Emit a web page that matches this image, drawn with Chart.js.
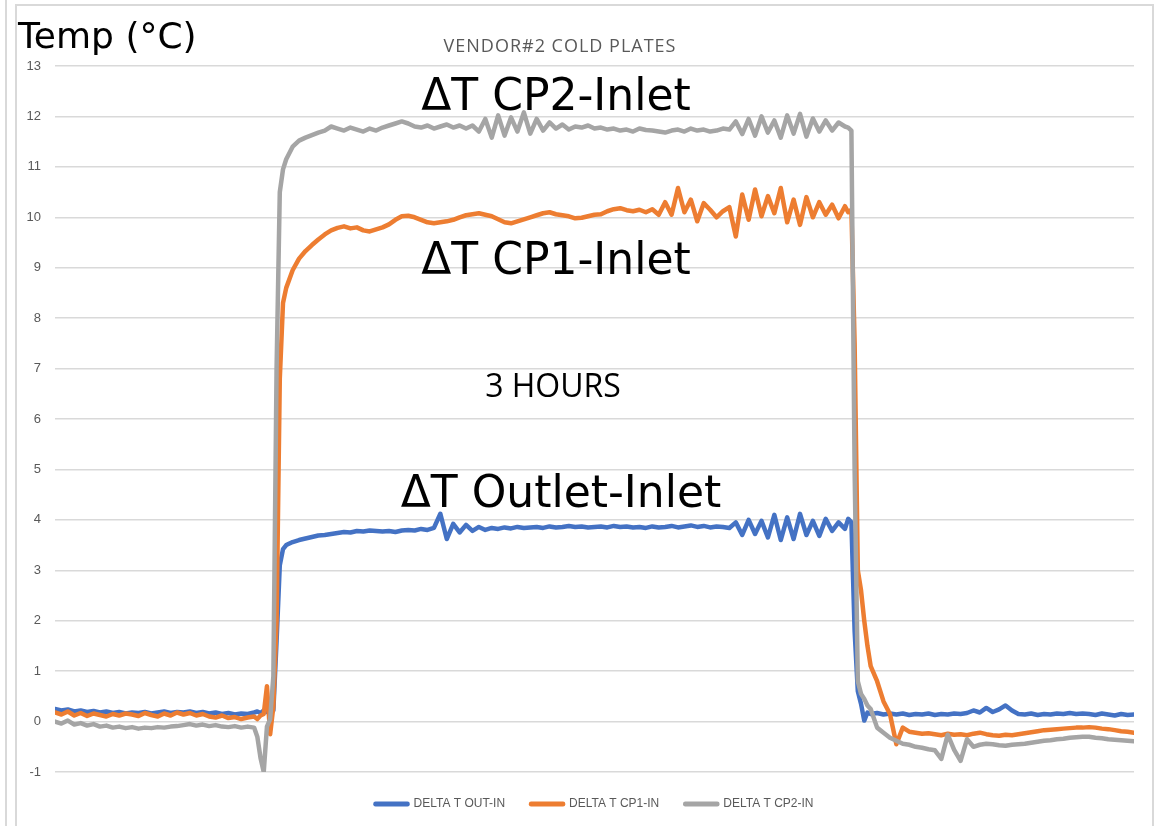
<!DOCTYPE html>
<html>
<head>
<meta charset="utf-8">
<title>Vendor#2 Cold Plates</title>
<script src="https://cdn.jsdelivr.net/npm/chart.js@4.4.1/dist/chart.umd.min.js"></script>
<style>
  html, body { margin: 0; padding: 0; background: #fff; }
  #wrap { position: relative; width: 1161px; height: 826px; overflow: hidden; }
  .edge { position: absolute; background: #d9d9d9; }
  canvas { position: absolute; left: 0; top: 0; }
</style>
</head>
<body>
<div id="wrap">
  <div class="edge" style="left:5px;top:0;width:2px;height:826px"></div>
  <div class="edge" style="left:15px;top:4px;width:2px;height:822px"></div>
  <div class="edge" style="left:15px;top:4px;width:1139px;height:2px"></div>
  <div class="edge" style="left:1152px;top:4px;width:2px;height:822px"></div>
  <canvas id="chart" width="1161" height="826"></canvas>
</div>
<script>
// Elapsed time in minutes (finer steps around the load step up / step down)
const times = [
  0, 2, 4, 6, 8, 10, 12, 14, 16, 18,
  20, 22, 24, 26, 28, 30, 32, 34, 36, 38,
  40, 42, 44, 46, 48, 50, 52, 54, 56, 58,
  60, 62, 63, 64, 65, 66, 67, 68, 69, 70,
  71, 72, 74, 76, 78, 80, 82, 84, 86, 88,
  90, 92, 94, 96, 98, 100, 102, 104, 106, 108,
  110, 112, 114, 116, 118, 120, 122, 124, 126, 128,
  130, 132, 134, 136, 138, 140, 142, 144, 146, 148,
  150, 152, 154, 156, 158, 160, 162, 164, 166, 168,
  170, 172, 174, 176, 178, 180, 182, 184, 186, 188,
  190, 192, 194, 196, 198, 200, 202, 204, 206, 208,
  210, 212, 214, 216, 218, 220, 222, 224, 226, 228,
  230, 232, 234, 236, 238, 240, 242, 244, 246, 247,
  248, 249, 250, 251, 252, 253, 254, 256, 258, 260,
  262, 264, 266, 268, 270, 272, 274, 276, 278, 280,
  282, 284, 286, 288, 290, 292, 294, 296, 298, 300,
  302, 304, 306, 308, 310, 312, 314, 316, 318, 320,
  322, 324, 326, 328, 330, 332, 334, 336
];

// DELTA T OUT-IN
const outIn = [
  0.25, 0.22, 0.24, 0.20, 0.22, 0.19, 0.21, 0.18, 0.20, 0.17,
  0.19, 0.16, 0.18, 0.17, 0.19, 0.16, 0.18, 0.20, 0.17, 0.19,
  0.18, 0.20, 0.17, 0.19, 0.16, 0.18, 0.15, 0.17, 0.14, 0.16,
  0.15, 0.18, 0.20, 0.17, 0.22, 0.19, 0.18, 0.22, 1.60, 3.10,
  3.42, 3.50, 3.56, 3.60, 3.63, 3.66, 3.69, 3.70, 3.72, 3.74,
  3.76, 3.75, 3.78, 3.77, 3.79, 3.78, 3.77, 3.78, 3.76, 3.79,
  3.80, 3.79, 3.82, 3.80, 3.84, 4.12, 3.62, 3.92, 3.75, 3.90,
  3.78, 3.86, 3.80, 3.84, 3.82, 3.85, 3.83, 3.86, 3.84, 3.85,
  3.86, 3.84, 3.87, 3.85, 3.86, 3.88, 3.86, 3.87, 3.85, 3.86,
  3.87, 3.85, 3.88, 3.86, 3.87, 3.85, 3.86, 3.84, 3.87, 3.85,
  3.86, 3.88, 3.85, 3.87, 3.89, 3.86, 3.88, 3.85, 3.87, 3.86,
  3.84, 3.95, 3.70, 4.00, 3.72, 3.98, 3.65, 4.10, 3.60, 4.05,
  3.62, 4.12, 3.70, 3.98, 3.68, 4.02, 3.78, 3.95, 3.82, 4.02,
  3.95, 1.80, 0.60, 0.35, 0.02, 0.18, 0.15, 0.17, 0.14, 0.16,
  0.14, 0.16, 0.13, 0.15, 0.14, 0.16, 0.13, 0.15, 0.14, 0.16,
  0.15, 0.17, 0.22, 0.18, 0.27, 0.19, 0.24, 0.32, 0.22, 0.15,
  0.14, 0.16, 0.13, 0.15, 0.14, 0.16, 0.15, 0.17, 0.15, 0.16,
  0.15, 0.13, 0.16, 0.14, 0.12, 0.15, 0.13, 0.14
];

// DELTA T CP1-IN
const cp1In = [
  0.18, 0.14, 0.20, 0.12, 0.17, 0.11, 0.16, 0.13, 0.10, 0.15,
  0.12, 0.16, 0.14, 0.11, 0.17, 0.13, 0.10, 0.16, 0.12, 0.18,
  0.14, 0.17, 0.12, 0.15, 0.10, 0.08, 0.12, 0.07, 0.09, 0.05,
  0.08, 0.10, 0.05, 0.12, 0.15, 0.70, -0.25, 0.30, 2.00, 6.80,
  8.30, 8.60, 8.95, 9.18, 9.33, 9.45, 9.56, 9.66, 9.74, 9.79,
  9.82, 9.78, 9.80, 9.74, 9.72, 9.76, 9.80, 9.86, 9.95, 10.02,
  10.03, 10.00, 9.95, 9.90, 9.88, 9.90, 9.92, 9.95, 10.00, 10.04,
  10.06, 10.08, 10.05, 10.02, 9.96, 9.90, 9.88, 9.92, 9.96, 10.00,
  10.04, 10.08, 10.10, 10.06, 10.04, 10.02, 9.98, 9.99, 10.02, 10.05,
  10.06, 10.12, 10.16, 10.18, 10.14, 10.12, 10.15, 10.10, 10.16, 10.05,
  10.30, 10.05, 10.58, 10.10, 10.35, 9.92, 10.28, 10.15, 10.00, 10.12,
  10.20, 9.62, 10.45, 9.95, 10.55, 10.02, 10.42, 10.08, 10.58, 9.90,
  10.35, 9.85, 10.40, 10.00, 10.30, 10.05, 10.25, 9.98, 10.22, 10.10,
  10.15, 7.50, 3.00, 2.60, 2.00, 1.50, 1.10, 0.80, 0.40, 0.15,
  -0.45, -0.12, -0.20, -0.22, -0.24, -0.23, -0.25, -0.27, -0.24, -0.26,
  -0.25, -0.27, -0.24, -0.22, -0.25, -0.27, -0.28, -0.26, -0.27, -0.25,
  -0.23, -0.21, -0.19, -0.17, -0.16, -0.15, -0.14, -0.13, -0.12, -0.12,
  -0.11, -0.12, -0.14, -0.15, -0.17, -0.19, -0.20, -0.22
];

// DELTA T CP2-IN
const cp2In = [
  0.00, -0.04, 0.02, -0.06, -0.03, -0.08, -0.05, -0.10, -0.08, -0.12,
  -0.10, -0.13, -0.11, -0.14, -0.12, -0.13, -0.11, -0.12, -0.10, -0.09,
  -0.07, -0.05, -0.08, -0.06, -0.09, -0.07, -0.10, -0.11, -0.09, -0.12,
  -0.10, -0.12, -0.30, -0.72, -1.00, -0.10, 0.05, 0.90, 7.00, 10.50,
  10.95, 11.15, 11.40, 11.52, 11.58, 11.63, 11.68, 11.72, 11.80, 11.76,
  11.72, 11.78, 11.74, 11.70, 11.76, 11.72, 11.78, 11.82, 11.86, 11.90,
  11.86, 11.80, 11.78, 11.82, 11.76, 11.80, 11.84, 11.78, 11.82, 11.76,
  11.82, 11.70, 11.95, 11.58, 12.02, 11.62, 11.98, 11.70, 12.08, 11.66,
  11.95, 11.72, 11.88, 11.76, 11.84, 11.74, 11.80, 11.78, 11.82, 11.76,
  11.78, 11.74, 11.76, 11.72, 11.74, 11.70, 11.76, 11.73, 11.72, 11.70,
  11.68, 11.72, 11.74, 11.70, 11.76, 11.72, 11.74, 11.70, 11.72, 11.76,
  11.74, 11.90, 11.65, 11.95, 11.62, 12.00, 11.68, 11.92, 11.58, 12.02,
  11.66, 12.05, 11.60, 11.96, 11.70, 11.92, 11.72, 11.88, 11.80, 11.78,
  11.72, 5.00, 0.80, 0.55, 0.45, 0.32, 0.25, -0.12, -0.22, -0.32,
  -0.38, -0.44, -0.46, -0.50, -0.52, -0.55, -0.57, -0.74, -0.26, -0.56,
  -0.78, -0.35, -0.50, -0.46, -0.44, -0.45, -0.47, -0.48, -0.46, -0.45,
  -0.44, -0.42, -0.40, -0.38, -0.37, -0.35, -0.34, -0.32, -0.31, -0.30,
  -0.30, -0.32, -0.33, -0.35, -0.36, -0.37, -0.38, -0.39
];

const seriesNames = ['DELTA T OUT-IN', 'DELTA T CP1-IN', 'DELTA T CP2-IN'];
const seriesColors = ['#4472c4', '#ed7d31', '#a5a5a5'];

const toPoints = values => times.map((t, i) => ({ x: t, y: values[i] }));

// Free text written on the chart (title, axis caption, call-outs)
const chartTexts = [
  { text: 'Temp (°C)', x: 18, y: 48, align: 'left', font: '36px "DejaVu Sans"', color: '#000' },
  { text: 'VENDOR#2 COLD PLATES', x: 560, y: 52, align: 'center', font: '18px "Open Sans"', color: '#595959', spacing: '1px' },
  { text: 'ΔT CP2-Inlet', x: 556, y: 110, align: 'center', font: '44px "DejaVu Sans"', color: '#000' },
  { text: 'ΔT CP1-Inlet', x: 556, y: 274, align: 'center', font: '44px "DejaVu Sans"', color: '#000' },
  { text: '3 HOURS', x: 553, y: 397, align: 'center', font: '32px "Open Sans"', color: '#000' },
  { text: 'ΔT Outlet-Inlet', x: 561, y: 507, align: 'center', font: '44px "DejaVu Sans"', color: '#000' }
];

const textPlugin = {
  id: 'chartTexts',
  afterLayout(chart) {
    // centre the legend under the plot the way the original sheet does
    if (chart.legend) {
      chart.legend.left += 14;
      chart.legend.right += 14;
    }
  },
  afterDatasetsDraw(chart) {
    const ctx = chart.ctx;
    ctx.save();
    ctx.textBaseline = 'alphabetic';
    chartTexts.forEach(item => {
      ctx.font = item.font;
      ctx.fillStyle = item.color;
      ctx.textAlign = item.align;
      ctx.letterSpacing = item.spacing || '0px';
      ctx.fillText(item.text, item.x, item.y);
    });
    ctx.restore();
  }
};

const makeDataset = (values, idx) => ({
  label: seriesNames[idx],
  data: toPoints(values),
  borderColor: seriesColors[idx],
  backgroundColor: seriesColors[idx],
  borderWidth: 4.5,
  borderJoinStyle: 'round',
  borderCapStyle: 'round',
  pointRadius: 0,
  tension: 0,
  order: 3 - idx
});

new Chart(document.getElementById('chart'), {
  type: 'line',
  data: {
    datasets: [makeDataset(outIn, 0), makeDataset(cp1In, 1), makeDataset(cp2In, 2)]
  },
  options: {
    responsive: false,
    animation: false,
    devicePixelRatio: 1,
    layout: { padding: { left: 27, right: 27, top: 66, bottom: 6 } },
    scales: {
      x: {
        type: 'linear',
        min: 0,
        max: 336,
        display: false
      },
      y: {
        min: -1,
        max: 13,
        ticks: {
          stepSize: 1,
          padding: 14,
          color: '#595959',
          font: { family: 'Liberation Sans', size: 13 }
        },
        grid: { color: '#d9d9d9', lineWidth: 1.5, drawTicks: false },
        border: { display: false },
        afterFit: scale => { scale.width = 28; }
      }
    },
    plugins: {
      legend: {
        position: 'bottom',
        labels: {
          boxWidth: 32,
          boxHeight: 0.5,
          padding: 26,
          color: '#595959',
          font: { family: 'Liberation Sans', size: 12 },
          sort: (a, b) => a.datasetIndex - b.datasetIndex
        }
      },
      title: { display: false },
      tooltip: { enabled: false }
    }
  },
  plugins: [textPlugin]
});
</script>
</body>
</html>
